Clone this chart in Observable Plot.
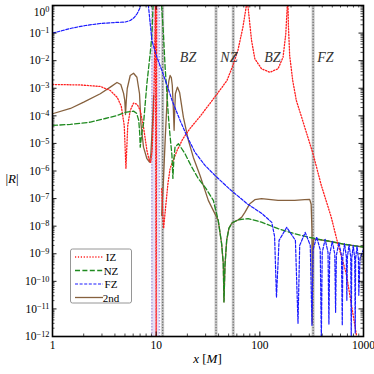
<!DOCTYPE html>
<html><head><meta charset="utf-8">
<script src="https://cdn.jsdelivr.net/npm/d3@7"></script>
<script src="https://cdn.jsdelivr.net/npm/@observablehq/plot@0.6"></script>
<style>body{margin:0;background:#fff}</style>
</head><body><div id="chart"></div>
<script>
// IZ (red dotted)
const izX = [1, 1.86, 2.89, 3.61, 4.22, 4.61, 4.92, 5.11, 5.32, 5.62, 6.05, 6.56, 7.02, 7.55, 8.14, 8.57, 8.85, 9.15, 9.46, 9.71, 9.84, 10.0, 10.12,
  null,
  11.3, 11.55, 11.8, 12.2, 13.0, 13.63, 15.92, 18.18, 21.23, 26.49, 37.8, 48.17, 55.0, 61.4, 68.6, 74.2, 75.5, 76.7, 83.2, 89.5, 103.8, 124.8, 150, 167.5, 178, 184, 186, 187, 188.5, 194, 207.6, 225, 271, 326, 392, 489, 566, 682, 851, 876];
const izR = [1.37e-3, 1.32e-3, 1.16e-3, 8.3e-4, 4.6e-4, 2.2e-4, 4.5e-5, 1.24e-6, 4.5e-5, 1.57e-4, 2.9e-4, 2.6e-4, 1.57e-4, 3.9e-5, 5.6e-6, 2.4e-6, 2.05e-6, 5.6e-6, 1.57e-4, 0.054, 1, 5e-13, 1.5,
  null,
  2.3e-7, 3.2e-8, 8.3e-9, 3.2e-8, 3.6e-7, 1.24e-6, 5.6e-6, 1.52e-5, 3.5e-5, 9.5e-5, 5.5e-4, 1.9e-3, 6.7e-3, 0.0234, 0.16, 1, 3, 1, 0.054, 0.0117, 5.1e-3, 3.8e-3, 5.1e-3, 0.0134, 0.094, 1, 3, 1, 0.2, 0.0154, 1.9e-3, 3.6e-4, 3.9e-5, 4.2e-6, 3.0e-7, 2.1e-8, 2.3e-9, 1.9e-10, 1.27e-12, 5e-13];

// NZ (green dashed)
const nzX = [1, 1.49, 2.32, 3.23, 4.19, 5.03, 6.05, 6.49, 6.79, 6.94, 7.02, 7.26, 7.55, 8.14, 8.75, 9.09, 9.46,
  null,
  11.05, 11.75, 12.2, 12.7, 13.1, 13.6, 14.2, 14.5, 14.8, 15.2, 16.4, 19.0, 22.0, 25.5, 30.3, 35.6, 39.7, 42.8, 44.4, 45.1, 46.1, 47.9, 50.3, 53.8, 61.8, 77.2, 103.8, 150, 217, 314, 454, 657, 1000];
const nzR = [4.5e-5, 4.9e-5, 5.9e-5, 8.0e-5, 1.03e-4, 1.33e-4, 1.48e-4, 1.22e-4, 6.8e-5, 2.3e-5, 7.3e-6, 2.3e-5, 5.2e-5, 1.46e-3, 0.0178, 0.082, 3.5,
  null,
  3.5, 0.094, 5.8e-3, 6.3e-4, 1.03e-4, 1.95e-5, 3.7e-6, 5.4e-7, 2.4e-6, 7.3e-6, 9.8e-6, 4.2e-6, 1.4e-6, 5.3e-7, 2.3e-7, 8.6e-8, 1.6e-8, 2.3e-9, 4.4e-10, 1.8e-11, 3.8e-10, 3.1e-9, 8.3e-9, 1.3e-8, 1.7e-8, 1.87e-8, 1.4e-8, 8.1e-9, 5.3e-9, 3.8e-9, 2.9e-9, 2.2e-9, 1.75e-9];

// FZ (blue dashed)
const fzX = [1, 1.248, 1.557, 2.076, 2.894, 4.035, 5.034, 5.623, 6.145, 6.567, 6.939, 7.254, 7.665, 8.105, 8.377, 9.094, 10.16, 11.17, 12.67, 14.25, 17.01, 19.87, 23.71, 29.59, 36.93, 51.46, 76.65, 104.5, 130.4, 138.8,
  144.7, 153.3, 181.8, 220.4, 233.5, 242.4, 273.8, 306.5, 318.3, 326.2, 353.3, 382.5, 392, 399.9, 426.4, 454.7, 463.8, 472.1, 500, 528.6, 538.1, 547.7, 578.8, 613.1, 624.1, 631.8, 656.7, 682.6, 691, 698.7, 725.5, 753.3, 761.7, 770.1, 796.2, 823.1, 832.2, 839.5, 866, 893.3, 901.2, 925.3, 1000];
const fzR = [0.099, 0.124, 0.153, 0.188, 0.223, 0.242, 0.252, 0.286, 0.367, 0.513, 0.779, 2.3, 5.3, 2.96, 1.18, 0.054, 0.0134, 5.2e-3, 1.37e-3, 3.6e-4, 6.8e-5, 1.79e-5, 4.72e-6, 1.6e-6, 6.9e-7, 2.16e-7, 6.2e-8, 2.9e-8, 1.37e-8, 4.27e-9,
  2.63e-11, 3.06e-9, 9.05e-9, 3.06e-9, 3.0e-12, 2.01e-9, 5.96e-9, 2.01e-9, 2.55e-12, 1.38e-9, 4.09e-9, 1.38e-9, 7.3e-13, 1.12e-9, 3.33e-9, 1.12e-9, 2.77e-12, 9.5e-10, 2.81e-9, 9.5e-10, 7.5e-12, 8.75e-10, 2.59e-9, 8.75e-10, 2.55e-12, 8.05e-10, 2.32e-9, 8.05e-10, 2.05e-11, 7.41e-10, 2.14e-9, 7.41e-10, 7.3e-13, 6.8e-10, 2.01e-9, 6.8e-10, 1.31e-12, 6.53e-10, 1.9e-9, 6.53e-10, 3.11e-11, 6.8e-10, 1.44e-9];

// 2nd (brown solid)
const secX = [1, 1.49, 2.0, 2.89, 3.61, 4.19, 4.56, 4.85, 4.98, 5.06, 5.15, 5.26, 5.62, 6.05, 6.52, 6.91, 7.13, 7.55, 8.14, 8.62, 8.89, 9.21, 9.46,
  null,
  11.3, 11.75, 12.21, 12.84, 13.27, 13.63, 14.0, 14.31, 14.67, 14.9, 15.1, 15.33, 16.03, 16.83, 18.3, 20.45, 22.84, 26.49, 31.84, 39.7, 42.8, 44.4, 45.1, 46.1, 47.9, 50.3, 53.8, 61.8, 66.7, 71.76, 80.14, 89.5, 103.8, 150, 217, 270.8, 302.6, 312.7, 318.3, 321.1, 325.4, 330.5, 454, 657, 1000];
const secR = [1.19e-4, 1.85e-4, 3.13e-4, 6.32e-4, 1.1e-3, 1.62e-3, 1.37e-3, 6.5e-4, 3.6e-4, 1.12e-4, 3.6e-4, 9.8e-4, 2.9e-3, 3.5e-3, 2.5e-3, 6.32e-4, 5.2e-5, 7.3e-6, 2.79e-6, 2.1e-6, 4.2e-6, 5.2e-5, 5.5e-4,
  null,
  2.46e-8, 4.56e-7, 1.29e-5, 7.05e-4, 1.9e-3, 2.9e-3, 2.46e-3, 1.26e-3, 1.57e-4, 3.0e-5, 1.57e-4, 6.32e-4, 1.1e-3, 7.05e-4, 8.97e-5, 1.29e-5, 3.11e-6, 6.9e-7, 8.6e-8, 1.6e-8, 2.3e-9, 4.4e-10, 1.8e-11, 3.8e-10, 3.1e-9, 8.3e-9, 1.3e-8, 1.7e-8, 2.08e-8, 3.16e-8, 6.53e-8, 9.12e-8, 9.9e-8, 8.6e-8, 8.6e-8, 9.12e-8, 9.35e-8, 6.2e-8, 7.05e-9, 3.0e-12, 1.33e-9, 3.47e-9, 2.9e-9, 2.2e-9, 1.75e-9];

// zone boundaries, band, labels, ticks
const zoneBounds = [11.55, 37.8, 55.4, 326.7];
const bandX = [9.1, 10.75];
const zoneLabels = ["BZ", "NZ", "BZ", "FZ"];
const zoneX = [20.3, 50.3, 131.9, 429.5];
const zoneY = [0.0134, 0.0134, 0.0134, 0.0134];
const xMajor = [1, 10, 100, 1000];
const yMajor = [1e-12, 1e-11, 1e-10, 1e-9, 1e-8, 1e-7, 1e-6, 1e-5, 1e-4, 1e-3, 1e-2, 1e-1, 1];
const legendNames = ["IZ", "NZ", "FZ", "2nd"];

const xMinor = [], yMinor = [];
for (const d of [1, 10, 100]) for (let m = 2; m <= 9; m++) xMinor.push(m * d);
for (let k = -12; k < 0; k++) for (let m = 2; m <= 9; m++) yMinor.push(m * Math.pow(10, k));

const W = 374, H = 374, mL = 52, mR = 11, mT = 5, mB = 38;
const iW = W - mL - mR, iH = H - mT - mB;
const pts = (xs, rs) => xs.map((x, i) => ({x, r: rs[i]}));
const iz = pts(izX, izR), nz = pts(nzX, nzR), fz = pts(fzX, fzR), sec = pts(secX, secR);

const styles = {
  IZ: {stroke: "#ff1f1f", strokeWidth: 1.3, strokeDasharray: "1.2,1.7"},
  NZ: {stroke: "#1f8a1f", strokeWidth: 1.3, strokeDasharray: "5,2.4"},
  FZ: {stroke: "#1a1aff", strokeWidth: 1.2, strokeDasharray: "3,1.6"},
  "2nd": {stroke: "#86613e", strokeWidth: 1.3}
};

const chart = Plot.plot({
  width: W, height: H,
  marginLeft: mL, marginRight: mR, marginTop: mT, marginBottom: mB,
  x: {type: "log", domain: [1, 1000]},
  y: {type: "log", domain: [1e-12, 1]},
  style: {fontFamily: "'Liberation Serif', serif", fontSize: "11.5px", background: "white", color: "black"},
  marks: [
    Plot.rect([bandX], {x1: d => d[0], x2: d => d[1], fill: "#ddd5f2", fillOpacity: 0.75}),
    Plot.ruleX(bandX, {stroke: "#b3a3dd", strokeWidth: 1.5, strokeDasharray: "1.5,1.5"}),
    Plot.ruleX(zoneBounds, {stroke: "#c8c8c8", strokeWidth: 3}),
    Plot.ruleX(zoneBounds, {stroke: "#707070", strokeWidth: 1.3, strokeDasharray: "1.3,1.5"}),
    Plot.line(sec, {x: "x", y: "r", ...styles["2nd"], clip: true}),
    Plot.line(iz, {x: "x", y: "r", ...styles.IZ, clip: true}),
    Plot.line(nz, {x: "x", y: "r", ...styles.NZ, clip: true}),
    Plot.line(fz, {x: "x", y: "r", ...styles.FZ, clip: true}),
    Plot.text(zoneLabels, {x: zoneX, y: zoneY, text: d => d, fontStyle: "italic", fontSize: 14, fill: "#333"}),
    Plot.tickY(yMajor, {y: d => d, insetRight: iW - 4.5, stroke: "black", strokeWidth: 0.9}),
    Plot.tickY(yMajor, {y: d => d, insetLeft: iW - 4.5, stroke: "black", strokeWidth: 0.9}),
    Plot.tickY(yMinor, {y: d => d, insetRight: iW - 2.5, stroke: "black", strokeWidth: 0.7}),
    Plot.tickY(yMinor, {y: d => d, insetLeft: iW - 2.5, stroke: "black", strokeWidth: 0.7}),
    Plot.tickX(xMajor, {x: d => d, insetTop: iH - 4.5, stroke: "black", strokeWidth: 0.9}),
    Plot.tickX(xMajor, {x: d => d, insetBottom: iH - 4.5, stroke: "black", strokeWidth: 0.9}),
    Plot.tickX(xMinor, {x: d => d, insetTop: iH - 2.5, stroke: "black", strokeWidth: 0.7}),
    Plot.tickX(xMinor, {x: d => d, insetBottom: iH - 2.5, stroke: "black", strokeWidth: 0.7}),
    Plot.frame({stroke: "black", strokeWidth: 1.6}),
    Plot.axisX(xMajor, {tickSize: 0, tickPadding: 4, tickFormat: d => String(d), label: null, fontSize: 11.5}),
    Plot.axisY(yMajor, {tickSize: 0, tickPadding: 3, tickFormat: d => String(Math.round(Math.log10(d))), label: null, fontSize: 11.5})
  ]
});
document.getElementById("chart").appendChild(chart);

const svg = d3.select(chart);
// superscript exponents on y tick labels
svg.selectAll('g[aria-label="y-axis tick label"] text').each(function () {
  const raw = this.textContent;
  const k = raw.replace("-", "\u2212");
  const t = d3.select(this);
  t.text(null);
  t.append("tspan").text("10");
  t.append("tspan").attr("dy", "-0.42em").attr("font-size", "0.72em").text(k);
  if (raw === "0") t.attr("dy", "0.55em");
});

// axis titles
const yl = svg.append("text").attr("x", 12).attr("y", 183).attr("text-anchor", "middle")
  .attr("font-size", 13).attr("font-family", "'Liberation Serif', serif");
yl.append("tspan").text("|");
yl.append("tspan").attr("font-style", "italic").text("R");
yl.append("tspan").text("|");
const xl = svg.append("text").attr("x", mL + iW / 2).attr("y", 363).attr("text-anchor", "middle")
  .attr("font-size", 13).attr("font-family", "'Liberation Serif', serif");
xl.append("tspan").attr("font-style", "italic").text("x");
xl.append("tspan").text(" [");
xl.append("tspan").attr("font-style", "italic").text("M");
xl.append("tspan").text("]");

// legend
const lg = svg.append("g").attr("font-family", "'Liberation Serif', serif").attr("font-size", 11);
lg.append("rect").attr("x", 70.5).attr("y", 249).attr("width", 61).attr("height", 54).attr("rx", 2)
  .attr("fill", "white").attr("stroke", "#8a8a8a").attr("stroke-width", 0.9);
legendNames.forEach((name, i) => {
  const y = 257 + i * 13.5;
  const s = styles[name];
  lg.append("line").attr("x1", 75).attr("x2", 103).attr("y1", y).attr("y2", y)
    .attr("stroke", s.stroke).attr("stroke-width", s.strokeWidth)
    .attr("stroke-dasharray", s.strokeDasharray || null);
  lg.append("text").attr("x", 111).attr("y", y + 4).text(name);
});
</script></body></html>
